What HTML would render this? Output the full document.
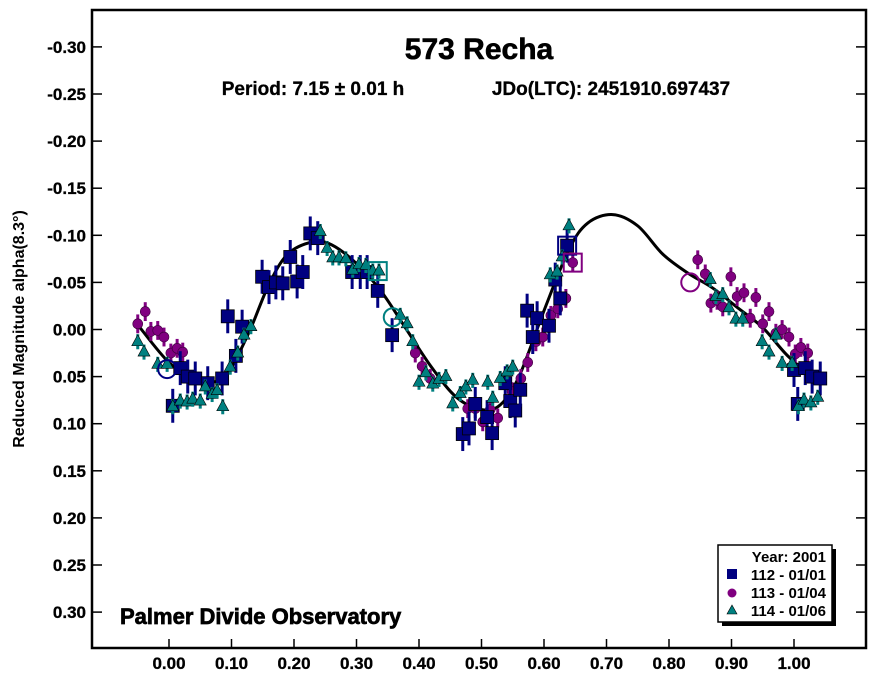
<!DOCTYPE html>
<html><head><meta charset="utf-8"><style>
html,body{margin:0;padding:0;background:#fff;}
svg{display:block;font-family:"Liberation Sans",Arial,sans-serif;font-weight:bold;}
</style></head><body>
<svg id="chart" width="882" height="681" viewBox="0 0 882 681" xmlns="http://www.w3.org/2000/svg">
<rect x="0" y="0" width="882" height="681" fill="#fff"/>
<g id="axes"></g>
<g id="curve"></g>
<g id="marks"></g>
<text x="479" y="59" text-anchor="middle" font-size="30" stroke="#000" stroke-width="0.6">573 Recha</text>
<text x="313" y="95" text-anchor="middle" font-size="19" stroke="#000" stroke-width="0.3">Period: 7.15 ± 0.01 h</text>
<text x="611" y="95" text-anchor="middle" font-size="19" stroke="#000" stroke-width="0.3">JDo(LTC): 2451910.697437</text>
<text x="120" y="624" font-size="22" stroke="#000" stroke-width="0.7">Palmer Divide Observatory</text>
<text transform="translate(24,329) rotate(-90)" text-anchor="middle" font-size="16">Reduced Magnitude alpha(8.3°)</text>
<g>
<rect x="722" y="549" width="114" height="77" fill="#000"/>
<rect x="718" y="545" width="114" height="77" fill="#fff" stroke="#000" stroke-width="1.5"/>
<text x="826" y="562" text-anchor="end" font-size="15">Year: 2001</text>
<rect x="727" y="569" width="10" height="10" fill="#000080"/>
<text x="826" y="580" text-anchor="end" font-size="15">112 - 01/01</text>
<circle cx="732" cy="593" r="4.5" fill="#800080"/>
<text x="826" y="598" text-anchor="end" font-size="15">113 - 01/04</text>
<polygon points="732,605 737,614 727,614" fill="#008080" stroke="#000" stroke-width="0.6"/>
<text x="826" y="616" text-anchor="end" font-size="15">114 - 01/06</text>
</g>
</svg>
<script>
const yTicks=[-0.30,-0.25,-0.20,-0.15,-0.10,-0.05,0.00,0.05,0.10,0.15,0.20,0.25,0.30];
const xTicks=[0.00,0.10,0.20,0.30,0.40,0.50,0.60,0.70,0.80,0.90,1.00];
const s112Phase=[0.018,0.030,0.042,0.062,0.085,0.006,0.094,0.117,0.107,0.149,0.160,0.171,0.182,0.194,0.205,0.214,0.226,0.238,0.293,0.306,0.317,0.334,0.357,0.470,0.480,0.490,0.509,0.517,0.538,0.546,0.554,0.562,0.573,0.589,0.582,0.608,0.618,0.626,0.637,1.000,1.018,1.029,1.042,1.006];
const s112Mag=[0.041,0.050,0.052,0.057,0.052,0.081,-0.014,-0.003,0.028,-0.056,-0.045,-0.050,-0.049,-0.077,-0.051,-0.061,-0.102,-0.097,-0.061,-0.061,-0.061,-0.041,0.006,0.111,0.105,0.079,0.093,0.110,0.057,0.076,0.086,0.064,-0.020,-0.012,0.008,-0.004,-0.053,-0.033,-0.089,0.043,0.041,0.050,0.052,0.079];
const s113Phase=[-0.050,-0.038,-0.029,-0.018,-0.008,0.003,0.013,0.022,0.394,0.405,0.418,0.478,0.490,0.502,0.514,0.526,0.549,0.563,0.574,0.587,0.598,0.611,0.622,0.635,0.646,0.846,0.858,0.867,0.877,0.886,0.899,0.909,0.920,0.930,0.939,0.950,0.960,0.971,0.981,0.992,1.002,1.011,1.022];
const s113Mag=[-0.006,-0.019,0.002,0.001,0.008,0.025,0.020,0.024,0.025,0.039,0.052,0.084,0.084,0.098,0.085,0.094,0.066,0.052,0.035,0.013,0.008,-0.015,-0.022,-0.033,-0.071,-0.074,-0.059,-0.028,-0.031,-0.024,-0.056,-0.035,-0.039,-0.012,-0.034,-0.006,-0.019,0.004,0.000,0.008,0.026,0.019,0.025];
const s114Phase=[-0.050,-0.040,-0.018,-0.003,0.006,0.018,0.029,0.038,0.050,0.058,0.069,0.077,0.086,0.098,0.110,0.120,0.131,0.242,0.253,0.262,0.272,0.283,0.294,0.304,0.315,0.326,0.336,0.370,0.381,0.390,0.400,0.411,0.422,0.432,0.443,0.454,0.466,0.475,0.486,0.510,0.518,0.530,0.541,0.550,0.610,0.621,0.629,0.640,0.866,0.875,0.886,0.896,0.907,0.918,0.949,0.960,0.971,0.981,0.997,1.007,1.016,1.027,1.038];
const s114Mag=[0.013,0.024,0.037,0.037,0.082,0.076,0.077,0.074,0.076,0.061,0.069,0.065,0.082,0.040,0.025,0.006,-0.003,-0.104,-0.086,-0.076,-0.076,-0.075,-0.063,-0.069,-0.068,-0.062,-0.062,-0.015,-0.006,0.013,0.056,0.046,0.058,0.053,0.050,0.079,0.068,0.061,0.054,0.056,0.073,0.052,0.045,0.040,-0.058,-0.061,-0.077,-0.110,-0.053,-0.035,-0.037,-0.023,-0.011,-0.011,0.013,0.024,0.006,0.036,0.036,0.082,0.075,0.078,0.072];
const curvePhase=[-0.05,0.0,0.04,0.08,0.10,0.13,0.16,0.19,0.23,0.26,0.30,0.34,0.38,0.42,0.46,0.50,0.53,0.56,0.60,0.64,0.67,0.71,0.75,0.79,0.83,0.87,0.91,0.95,0.99,1.03,1.05];
const curveMag=[-0.005,0.035,0.050,0.055,0.040,0.000,-0.048,-0.080,-0.093,-0.090,-0.070,-0.040,0.000,0.040,0.072,0.085,0.080,0.050,-0.020,-0.085,-0.113,-0.122,-0.110,-0.080,-0.060,-0.044,-0.023,-0.002,0.028,0.050,0.055];
const err112=0.018, err113=0.010, err114=0.008;
const startPhase=[-0.003,0.334,0.358,0.637,0.646,0.834];
const startMag=[0.042,-0.062,-0.013,-0.089,-0.071,-0.050];
const startShape=['circle','square','circle','square','square','circle'];
const startColor=['#000080','#008080','#008080','#000080','#800080','#800080'];

const NS='http://www.w3.org/2000/svg';
const L=92,R=866,T=10,B=648;
function xs(p){return 169+625*p;}
function ys(m){return 329.5+m*942;}
function mk(tag,attrs,parent){const e=document.createElementNS(NS,tag);for(const k in attrs)e.setAttribute(k,attrs[k]);parent.appendChild(e);return e;}
const axes=document.getElementById('axes');
let f=mk('rect',{x:L,y:T,width:R-L,height:B-T,fill:'none',stroke:'#000','stroke-width':2.5},axes);


yTicks.forEach(v=>{
  const y=ys(v);
  let t=mk('line',{x1:L,y1:y,x2:L+10,y2:y,stroke:'#000','stroke-width':1.5},axes);
  
  
  let t2=mk('line',{x1:R-10,y1:y,x2:R,y2:y,stroke:'#000','stroke-width':1.5},axes);
  
  
  let lb=mk('text',{x:86,y:y+6,'text-anchor':'end','font-size':17,stroke:'#000','stroke-width':0.3},axes);
  lb.textContent=v.toFixed(2);
  
  
});
xTicks.forEach(v=>{
  const x=xs(v);
  let t=mk('line',{x1:x,y1:B,x2:x,y2:B-9,stroke:'#000','stroke-width':1.5},axes);
  
  
  let lb=mk('text',{x:x,y:669,'text-anchor':'middle','font-size':17,stroke:'#000','stroke-width':0.3},axes);
  lb.textContent=v.toFixed(2);
  
  
});
const pts=curvePhase.map((p,i)=>[xs(p),ys(curveMag[i])]);
let d='M'+pts[0][0]+','+pts[0][1];
for(let i=0;i<pts.length-1;i++){
  const p0=pts[Math.max(0,i-1)],p1=pts[i],p2=pts[i+1],p3=pts[Math.min(pts.length-1,i+2)];
  d+=' C'+(p1[0]+(p2[0]-p0[0])/6)+','+(p1[1]+(p2[1]-p0[1])/6)+' '+(p2[0]-(p3[0]-p1[0])/6)+','+(p2[1]-(p3[1]-p1[1])/6)+' '+p2[0]+','+p2[1];
}
let cv=mk('path',{d:d,fill:'none',stroke:'#000','stroke-width':3},document.getElementById('curve'));


const marks=document.getElementById('marks');
function errbar(x,m,e,col){
  let l=mk('line',{x1:x,y1:ys(m-e),x2:x,y2:ys(m+e),stroke:col,'stroke-width':3},marks);
  
  
}
s113Phase.forEach((p,i)=>{
  const x=xs(p),y=ys(s113Mag[i]);errbar(x,s113Mag[i],err113,'#800080');
  let c=mk('circle',{cx:x,cy:y,r:5,fill:'#800080',stroke:'#3a003a','stroke-width':0.6},marks);
  
  
});
s112Phase.forEach((p,i)=>{
  const x=xs(p),y=ys(s112Mag[i]);errbar(x,s112Mag[i],err112,'#000080');
  let c=mk('rect',{x:x-6.5,y:y-6.5,width:13,height:13,fill:'#000080',stroke:'#000','stroke-width':0.8},marks);
  
  
});
s114Phase.forEach((p,i)=>{
  const x=xs(p),y=ys(s114Mag[i]);errbar(x,s114Mag[i],err114,'#008080');
  let c=mk('polygon',{points:(x)+','+(y-7)+' '+(x+6)+','+(y+4)+' '+(x-6)+','+(y+4),fill:'#008080',stroke:'#000','stroke-width':0.6},marks);
  
  
});
startPhase.forEach((p,i)=>{
  const x=xs(p),y=ys(startMag[i]);let c;
  if(startShape[i]==='circle') c=mk('circle',{cx:x,cy:y,r:9,fill:'none',stroke:startColor[i],'stroke-width':2},marks);
  else c=mk('rect',{x:x-9,y:y-9,width:18,height:18,fill:'none',stroke:startColor[i],'stroke-width':2},marks);
  
  
});
</script>
</body></html>
